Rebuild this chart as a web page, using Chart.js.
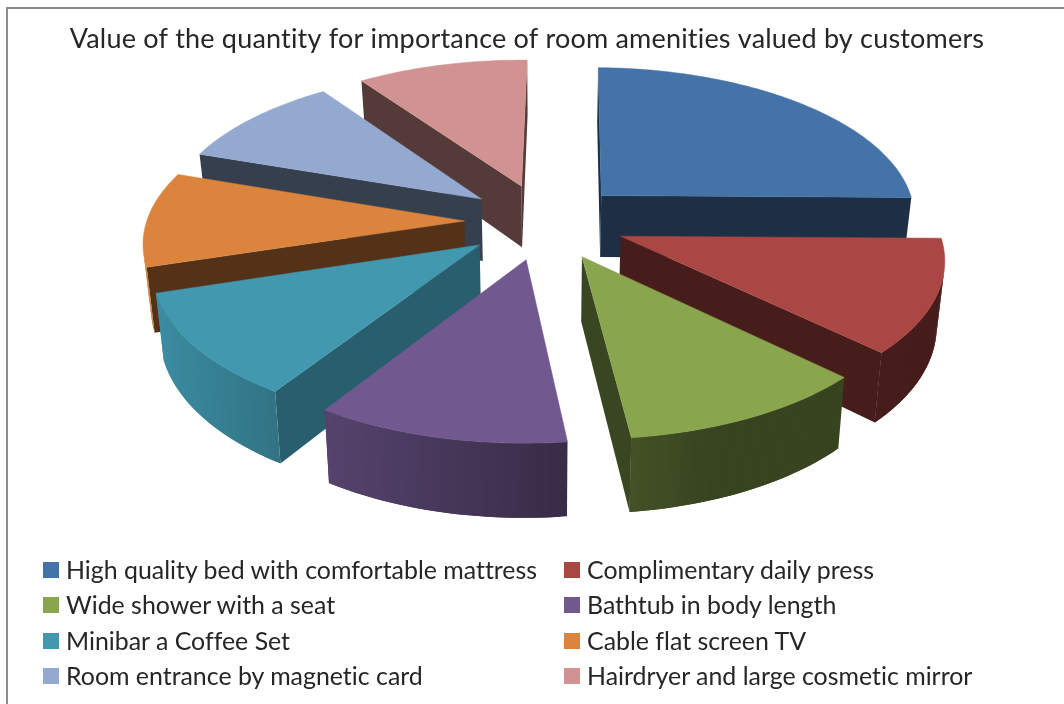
<!DOCTYPE html>
<html>
<head>
<meta charset="utf-8">
<title>Room amenities</title>
<script src="https://cdn.jsdelivr.net/npm/chart.js@4/dist/chart.umd.min.js"></script>
<style>
    html, body { margin: 0; padding: 0; background: #fff; }
    #wrap { position: relative; width: 1064px; height: 704px; overflow: hidden; }
    #frame { position: absolute; left: 6px; top: 7px; right: 0; bottom: 0; border-left: 2px solid #8c8c8c; border-top: 2px solid #8c8c8c; }
    canvas { position: absolute; left: 0; top: 0; }
    #leyenda { position: absolute; left: 0; top: 0; font: 24.9px Lato, sans-serif; font-variant-ligatures: none; color: #262626; }
    .item { position: absolute; white-space: nowrap; line-height: 30px; }
    .item i { position: absolute; left: -23px; top: 8px; width: 16px; height: 16px; }
</style>
</head>
<body>
<div id="wrap">
    <div id="frame"></div>
    <canvas id="grafico" width="1064" height="704"></canvas>
    <div id="leyenda"></div>
</div>
<script>
const titulo = 'Value of the quantity for importance of room amenities valued by customers';
const categorias = [
    'High quality bed with comfortable mattress',
    'Complimentary daily press',
    'Wide shower with a seat',
    'Bathtub in body length',
    'Minibar a Coffee Set',
    'Cable flat screen TV',
    'Room entrance by magnetic card',
    'Hairdryer and large cosmetic mirror'
];
const valores = [25, 12, 11, 11, 11, 10, 10, 10];
const colores = ['#4572A7', '#AA4643', '#89A54E', '#71588F', '#4198AF', '#DB843D', '#93A9CF', '#D19392'];
// cuanto se oscurece la pared recta de cada porcion
const sombraPared = [0.41, 0.41, 0.42, 0.5, 0.62, 0.38, 0.37, 0.4];

// Camara de la vista 3D: centro, radio, inclinacion, perspectiva y grosor
const camara = { cx: 545, cy: 221.5, radio: 317, alto: 150, k: 0.125, grosor: 63, taper: 0.02, sesgoX: 3, sesgoY: 2 };

function proyectar(u, v, z) {
    const p = 1 / (1 - camara.k * v);
    const s = p * (1 - camara.taper * z);
    return {
        x: camara.cx + camara.radio * u * s - camara.sesgoX * v,
        y: camara.cy + (camara.alto * v + camara.grosor * z) * p + camara.sesgoY * u
    };
}

function oscurecer(hex, m) {
    const n = parseInt(hex.slice(1), 16);
    const r = Math.round(((n >> 16) & 255) * m);
    const g = Math.round(((n >> 8) & 255) * m);
    const b = Math.round((n & 255) * m);
    return `rgb(${r},${g},${b})`;
}

function trazar(ctx, puntos) {
    ctx.beginPath();
    puntos.forEach((p, i) => i ? ctx.lineTo(p.x, p.y) : ctx.moveTo(p.x, p.y));
    ctx.closePath();
}

// Dibuja una cara lateral solo si mira hacia la camara
function pared(ctx, a, b, color) {
    const q = [proyectar(a.u, a.v, 0), proyectar(b.u, b.v, 0), proyectar(b.u, b.v, 1), proyectar(a.u, a.v, 1)];
    let area = 0;
    q.forEach((p, i) => {
        const s = q[(i + 1) % 4];
        area += p.x * s.y - s.x * p.y;
    });
    if (area >= 0) return;
    trazar(ctx, q);
    ctx.fillStyle = color;
    ctx.fill();
}

const pie3d = {
    id: 'pie3d',
    beforeDraw(chart) {
        // espacio minimo entre letras: tambien evita las ligaduras del titulo
        chart.ctx.letterSpacing = '0.19px';
    },
    beforeDatasetDraw(chart, args) {
        const ctx = chart.ctx;
        const arcos = chart.getDatasetMeta(args.index).data;

        const porciones = arcos.map((arco, i) => {
            const medio = (arco.startAngle + arco.endAngle) / 2;
            const e = arco.options.offset / arco.outerRadius;
            const centro = { u: Math.cos(medio) * e, v: Math.sin(medio) * e };
            const borde = [];
            const pasos = Math.ceil((arco.endAngle - arco.startAngle) * 180 / Math.PI);
            for (let j = 0; j <= pasos; j++) {
                const t = arco.startAngle + (arco.endAngle - arco.startAngle) * j / pasos;
                borde.push({ u: centro.u + Math.cos(t), v: centro.v + Math.sin(t), n: Math.cos(t) });
            }
            return { i, centro, borde };
        });

        // De atras hacia adelante
        porciones.sort((a, b) => a.centro.v - b.centro.v);

        ctx.save();
        ctx.lineJoin = 'round';
        porciones.forEach(({ i, centro, borde }) => {
            const color = colores[i];
            const recta = oscurecer(color, sombraPared[i]);
            const ultimo = borde.length - 1;
            pared(ctx, centro, borde[0], recta);
            pared(ctx, borde[ultimo], centro, recta);
            // cada tramo se solapa con el siguiente para que no queden rayas
            for (let j = 0; j < ultimo; j++) {
                const m = Math.min(0.98, Math.max(0.41, 0.55 - 0.4 * borde[j].n));
                pared(ctx, borde[j], borde[Math.min(j + 2, ultimo)], oscurecer(color, m));
            }
            trazar(ctx, [centro, ...borde].map(p => proyectar(p.u, p.v, 0)));
            ctx.fillStyle = color;
            ctx.strokeStyle = color;
            ctx.lineWidth = 0.5;
            ctx.fill();
            ctx.stroke();
        });
        ctx.restore();
        return false;
    }
};

new Chart(document.getElementById('grafico'), {
    type: 'pie',
    data: {
        labels: categorias,
        datasets: [{
            data: valores,
            backgroundColor: colores,
            borderWidth: 0,
            offset: 72,
            hoverOffset: 0
        }]
    },
    options: {
        responsive: false,
        animation: false,
        events: [],
        layout: { padding: { right: 10 } },
        plugins: {
            legend: { display: false },
            tooltip: { enabled: false },
            title: {
                display: true,
                text: titulo,
                color: '#262626',
                font: { family: 'Lato', size: 27, weight: 'normal' },
                padding: { top: 23, bottom: 10 }
            }
        }
    },
    plugins: [pie3d]
});

// Leyenda en dos columnas, como en el original
const leyenda = document.getElementById('leyenda');
categorias.forEach((nombre, i) => {
    const item = document.createElement('div');
    item.className = 'item';
    item.style.left = (i % 2 ? 587 : 66) + 'px';
    item.style.top = (554 + 35.4 * Math.floor(i / 2)) + 'px';
    item.innerHTML = `<i style="background:${colores[i]}"></i>${nombre}`;
    leyenda.appendChild(item);
});
</script>
</body>
</html>
